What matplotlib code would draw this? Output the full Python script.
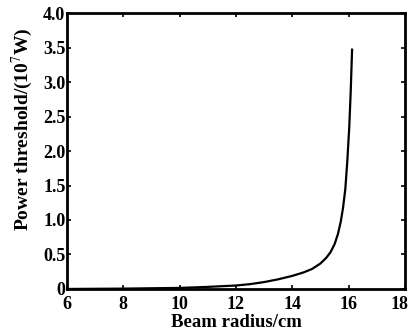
import matplotlib
matplotlib.use('Agg')
import matplotlib.pyplot as plt
import matplotlib.transforms as mtransforms

# Данные кривой
beam_radius = [6, 8, 10, 11, 12, 12.5, 13, 13.5, 14, 14.4, 14.7, 15.0, 15.2, 15.35,
               15.5, 15.62, 15.72, 15.8, 15.88, 15.95, 16.02, 16.07, 16.12]
power_threshold = [0.0, 0.005, 0.015, 0.03, 0.05, 0.07, 0.1, 0.14, 0.19, 0.24, 0.29,
                   0.37, 0.45, 0.53, 0.65, 0.8, 0.98, 1.18, 1.45, 1.85, 2.35, 2.85, 3.47]

x_ticks = [6, 8, 10, 12, 14, 16, 18]
y_ticks = [0, 0.5, 1.0, 1.5, 2.0, 2.5, 3.0, 3.5, 4.0]
y_tick_labels = ['0', '0.5', '1.0', '1.5', '2.0', '2.5', '3.0', '3.5', '4.0']

plt.rcParams['font.family'] = ['Liberation Serif', 'DejaVu Serif']
plt.rcParams['mathtext.fontset'] = 'stix'

fig = plt.figure(figsize=(4.1, 3.36), dpi=100)
ax = fig.add_axes([0.163, 0.140, 0.825, 0.821])

ax.plot(beam_radius, power_threshold, color='black', linewidth=1.6)

ax.set_xlim(6, 18)
ax.set_ylim(0, 4)
ax.set_xticks(x_ticks)
ax.set_yticks(y_ticks)
ax.set_yticklabels(y_tick_labels)

ax.tick_params(direction='in', top=True, right=True, length=3, width=1.2,
               labelsize=13)
ax.tick_params(axis='x', pad=5)
ax.tick_params(axis='y', pad=1)
for lbl in ax.get_xticklabels() + ax.get_yticklabels():
    lbl.set_fontweight('bold')
for sp in ax.spines.values():
    sp.set_linewidth(2)

# последнюю метку "18" чуть сдвигаем влево, чтобы не обрезалась
last = ax.get_xticklabels()[-1]
last.set_transform(last.get_transform() +
                   mtransforms.ScaledTranslation(-4 / 72, 0, fig.dpi_scale_trans))

ax.set_xlabel('Beam radius/cm', fontsize=13.5, fontweight='bold', labelpad=1)
ax.set_ylabel('Power threshold/(10$^7$W)', fontsize=14, fontweight='bold')
# подпись оси y в оригинале смещена вверх
ax.yaxis.set_label_coords(-0.095, 0.58)

fig.savefig('out.png', dpi=100)
